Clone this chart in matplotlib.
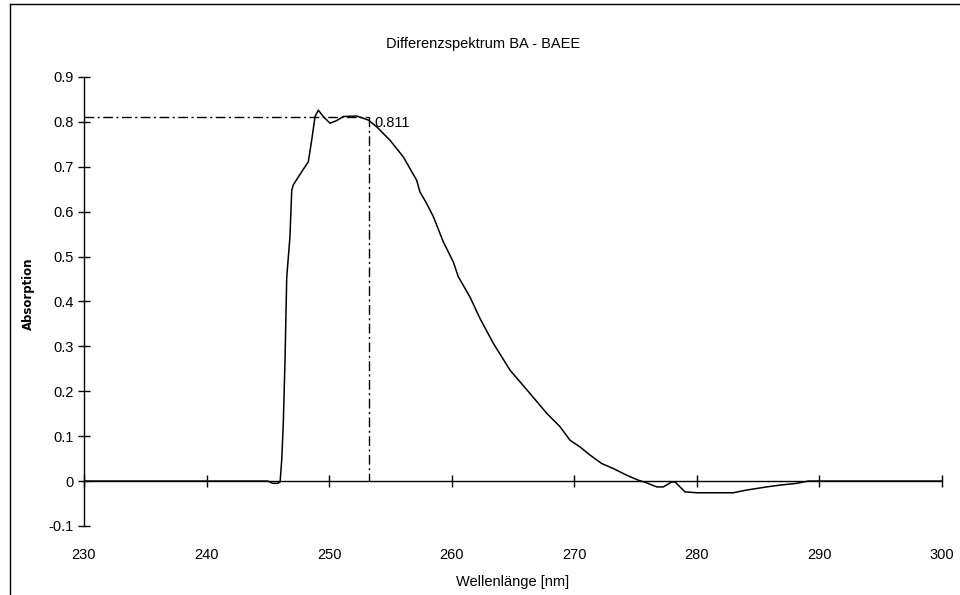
import matplotlib.pyplot as plt
from matplotlib.lines import Line2D

plt.rcParams['font.family'] = ['Liberation Sans', 'DejaVu Sans']

# Differenzspektrum BA - BAEE
wavelength = [230.0, 245.0, 245.4, 245.8, 246.0, 246.13, 246.26, 246.4, 246.54,
              246.8, 246.95, 247.08, 247.76, 248.30, 248.58, 248.85, 249.12,
              249.52, 250.07, 250.62, 251.16, 252.25, 252.79, 253.20, 253.88,
              254.97, 256.05, 257.14, 257.41, 257.96, 258.50, 259.31, 260.13,
              260.54, 261.49, 262.31, 263.39, 264.76, 266.39, 267.75, 268.84,
              269.65, 270.47, 271.28, 272.24, 273.18, 274.28, 275.22, 275.91,
              276.73, 277.26, 277.95, 278.22, 279.03, 279.99, 282.97, 284.06,
              285.69, 286.78, 288.15, 289.09, 300.0]
absorption = [0.0, 0.0, -0.005, -0.005, -0.002, 0.047, 0.129, 0.269, 0.454,
              0.543, 0.648, 0.660, 0.689, 0.711, 0.760, 0.812, 0.826,
              0.812, 0.797, 0.803, 0.812, 0.813, 0.808, 0.804, 0.789,
              0.759, 0.722, 0.670, 0.644, 0.618, 0.589, 0.533, 0.488,
              0.455, 0.410, 0.362, 0.307, 0.247, 0.195, 0.151, 0.121,
              0.091, 0.076, 0.058, 0.039, 0.028, 0.013, 0.002, -0.004,
              -0.013, -0.013, -0.002, -0.002, -0.024, -0.026, -0.026, -0.020,
              -0.013, -0.009, -0.005, 0.0, 0.0]

peak_x = 253.25
peak_y = 0.811

x_ticks = [230, 240, 250, 260, 270, 280, 290, 300]
y_ticks = [-0.1, 0, 0.1, 0.2, 0.3, 0.4, 0.5, 0.6, 0.7, 0.8, 0.9]

fs = 10.5

fig = plt.figure(figsize=(9.6, 5.95), dpi=100)
ax = fig.add_axes([0.0875, 0.116, 0.89375, 0.7546])

ax.plot(wavelength, absorption, color='black', lw=1.1)

# dash-dot marker lines for the maximum
dd = (0, (7, 2.5, 1.5, 2.5))
ax.plot([230, peak_x], [peak_y, peak_y], color='black', lw=1.0, linestyle=dd)
ax.plot([peak_x, peak_x], [peak_y, 0], color='black', lw=1.0, linestyle=dd)
ax.text(peak_x + 0.4, 0.797, '0.811', fontsize=fs, va='center', ha='left')

ax.set_xlim(230, 300)
ax.set_ylim(-0.1, 0.9)
ax.set_xticks(x_ticks)
ax.set_yticks(y_ticks)
ax.set_yticklabels([f'{v:g}' for v in y_ticks])

for s in ['top', 'right']:
    ax.spines[s].set_visible(False)
ax.spines['bottom'].set_position(('data', 0))
ax.spines['bottom'].set_linewidth(1.0)
ax.spines['left'].set_linewidth(1.0)
ax.tick_params(axis='x', direction='inout', length=9, width=1.0, labelbottom=False)
ax.tick_params(axis='y', direction='inout', length=9, width=1.0, labelsize=fs, pad=3)

sec = ax.secondary_xaxis('bottom')
sec.spines['bottom'].set_visible(False)
sec.set_xticks(x_ticks)
sec.tick_params(length=0, labelsize=fs, pad=16)

fig.text(0.5028, 1 - 44 / 595, 'Differenzspektrum BA - BAEE', ha='center', va='center', fontsize=fs)
fig.text(0.534, 1 - 582 / 595, 'Wellenlänge [nm]', ha='center', va='center', fontsize=fs)
fig.text(28 / 960, 1 - 294 / 595, 'Absorption', rotation=90, ha='center', va='center',
         fontsize=9.4, fontweight='bold', fontstretch='condensed',
         family=['DejaVu Sans'])

# outer chart frame
fig.add_artist(Line2D([10 / 960, 10 / 960], [0, 1 - 4 / 595], color='black', lw=1.0))
fig.add_artist(Line2D([10 / 960, 1], [1 - 4 / 595, 1 - 4 / 595], color='black', lw=1.0))

fig.savefig('out.png', dpi=100)
